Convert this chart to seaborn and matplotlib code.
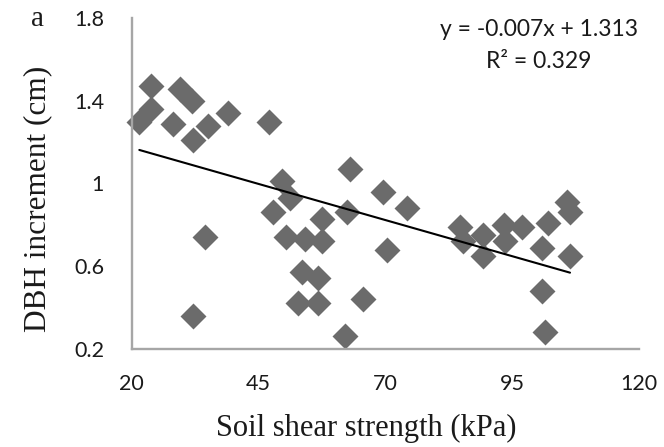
import numpy as np
import pandas as pd
import matplotlib
matplotlib.use("Agg")
import matplotlib.pyplot as plt
import seaborn as sns

# ---- data ----
shear_kpa = [21.5, 23.9, 23.9, 28.1, 29.5, 31.9, 32.1, 35.0, 39.0, 47.1, 34.5, 32.0,
             49.6, 51.3, 47.9, 57.6, 50.5, 54.2, 57.5, 63.0, 69.6, 74.2, 62.4, 70.3,
             53.5, 56.8, 52.8, 56.8, 65.5, 62.0,
             84.7, 85.4, 89.3, 89.3, 93.3, 93.6, 96.9, 102.1, 100.8, 105.8, 106.4,
             106.4, 100.8, 101.5]
dbh_increment = [1.30, 1.47, 1.36, 1.29, 1.46, 1.40, 1.21, 1.28, 1.34, 1.30, 0.74, 0.36,
                 1.01, 0.93, 0.86, 0.83, 0.74, 0.73, 0.72, 1.07, 0.96, 0.88, 0.86, 0.68,
                 0.57, 0.54, 0.42, 0.42, 0.44, 0.26,
                 0.79, 0.72, 0.75, 0.65, 0.80, 0.72, 0.79, 0.81, 0.69, 0.91, 0.86,
                 0.65, 0.48, 0.28]
fit_slope = -0.007
fit_intercept = 1.313
r_squared = 0.329
x_ticks = [20, 45, 70, 95, 120]
y_ticks = [0.2, 0.6, 1.0, 1.4, 1.8]
y_tick_labels = ["0.2", "0.6", "1", "1.4", "1.8"]

df = pd.DataFrame({"shear": shear_kpa, "dbh": dbh_increment})
fit_x = np.array([min(shear_kpa), max(shear_kpa)])
fit_df = pd.DataFrame({"shear": fit_x, "dbh": fit_slope * fit_x + fit_intercept})

sns.set_style("white")
fig = plt.figure(figsize=(6.64, 4.47), dpi=100)
ax = fig.add_axes([131.7 / 664, 1 - 348.7 / 447, (639 - 131.7) / 664, (348.7 - 18.3) / 447])

sns.scatterplot(data=df, x="shear", y="dbh", marker="D", s=175, color="#6b6b6b",
                linewidth=0, ax=ax, zorder=2, clip_on=False)
sns.lineplot(data=fit_df, x="shear", y="dbh", color="black", linewidth=1.5, ax=ax, zorder=3)

ax.set_xlim(20, 120)
ax.set_ylim(0.2, 1.8)
ax.set_xticks(x_ticks)
ax.set_xticklabels([str(t) for t in x_ticks])
ax.set_yticks(y_ticks)
ax.set_yticklabels(y_tick_labels)

spine_col = "#a6a6a6"
for s in ["top", "right"]:
    ax.spines[s].set_visible(False)
for s in ["left", "bottom"]:
    ax.spines[s].set_color(spine_col)
    ax.spines[s].set_linewidth(1.7)
ax.tick_params(axis="both", direction="out", length=5, width=1.7, color=spine_col,
               labelcolor="#1a1a1a")
ax.tick_params(axis="x", pad=13)
ax.tick_params(axis="y", pad=15)
for lab in ax.get_xticklabels() + ax.get_yticklabels():
    lab.set_fontfamily("Lato")
    lab.set_fontsize(15.5)

ax.set_xlabel("Soil shear strength (kPa)", fontfamily="Liberation Serif", fontsize=22,
              color="#1a1a1a")
ax.set_ylabel("DBH increment (cm)", fontfamily="Liberation Serif", fontsize=22.5,
              color="#1a1a1a")
ax.xaxis.set_label_coords((366 - 131.7) / 507.3, (348.7 - 428) / 330.4)
ax.xaxis.label.set_va("center")
ax.yaxis.set_label_coords((38 - 131.7) / 507.3, (348.7 - 199) / 330.4)
ax.yaxis.label.set_va("center")
ax.yaxis.label.set_rotation_mode("default")

ax.text(0.803, (348.7 - 30) / 330.4, f"y = {fit_slope}x + {fit_intercept}",
        transform=ax.transAxes, ha="center", va="center", fontfamily="Lato",
        fontsize=16.5, color="#1a1a1a")
ax.text(0.803, (348.7 - 62) / 330.4, f"R\u00b2 = {r_squared}",
        transform=ax.transAxes, ha="center", va="center", fontfamily="Lato",
        fontsize=16.5, color="#1a1a1a")

fig.text(37 / 664, 1 - 19 / 447, "a", fontfamily="Liberation Serif", fontsize=21,
         ha="center", va="center", color="#1a1a1a")

fig.savefig("out.png", dpi=100)
